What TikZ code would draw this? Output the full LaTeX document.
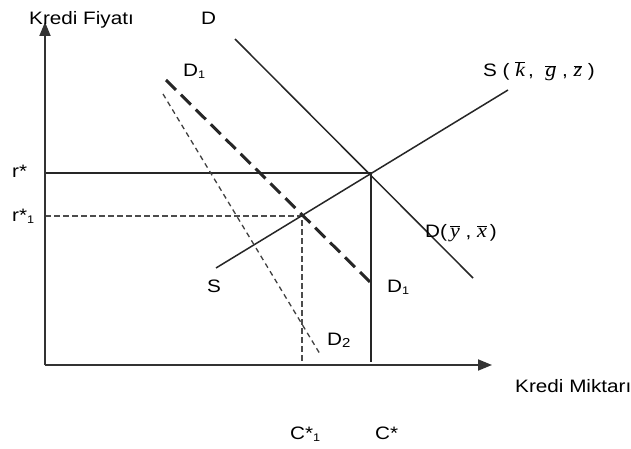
\documentclass[tikz,border=0pt]{standalone}
\usepackage{fontspec}
\setmainfont{Liberation Sans}[FakeStretch=1.15]
\newfontfamily\serifit{Liberation Serif Italic}[FakeStretch=1.1]
\usetikzlibrary{arrows.meta}
\newcommand{\ob}[1]{$\overline{\hbox{\fontsize{20}{22}\serifit #1}}$}
\begin{document}
\begin{tikzpicture}[x=1pt,y=-1pt,
  lbl/.style={anchor=base west,inner sep=0pt,font=\fontsize{18}{20}\selectfont},
  axis/.style={draw=black!80,line width=1.8pt,-{Triangle[length=14pt,width=11pt]}},
  curve/.style={draw=black!85,line width=1.5pt},
  thickdash/.style={draw=black!85,line width=3pt,dash pattern=on 14pt off 7pt},
  thindash/.style={draw=black!75,line width=1.3pt,dash pattern=on 5pt off 4pt},
  guidedash/.style={draw=black!70,line width=1.3pt,dash pattern=on 6pt off 3pt}]
\useasboundingbox (0,0) rectangle (631,449);
\fill[white] (0,0) rectangle (631,449);
% coordinates
\coordinate (O) at (45,365);
\coordinate (Ytop) at (45,22);
\coordinate (Xend) at (492,365);
\coordinate (E) at (371,173);
\coordinate (E1) at (302,216);
\coordinate (rs) at (45,173);
\coordinate (rs1) at (45,216);
\coordinate (Cs) at (371,362);
\coordinate (Cs1) at (302,365);
\coordinate (Da) at (235,39);
\coordinate (Db) at (473,278);
\coordinate (Sa) at (216,268);
\coordinate (Sb) at (508,90);
\coordinate (D1a) at (166,80);
\coordinate (D1b) at (372,284);
\coordinate (D2a) at (163,94);
\coordinate (D2b) at (320,354);
% guide lines
\draw[curve] (rs) -- (E) -- (Cs);
\draw[guidedash] (rs1) -- (E1) -- (Cs1);
% curves
\draw[curve] (Da) -- (Db);
\draw[curve] (Sa) -- (Sb);
\draw[thickdash] (D1a) -- (D1b);
\draw[thindash] (D2a) -- (D2b);
% axes
\draw[axis] (O) -- (Ytop);
\draw[axis] (O) -- (Xend);
% labels
\node[lbl] (ly) at (29,25) {Kredi Fiyatı};
\node[lbl] (lD) at (201,25) {D};
\node[lbl] (lD1) at (183,77) {D\raisebox{-2pt}{\fontsize{11}{12}\selectfont 1}};
\node[lbl] (lS) at (483,77) {S (\ \ob{k}\,, \ \ob{g}\ , \ob{z}\ )};
\node[lbl] (lr) at (12,178) {r*};
\node[lbl] (lr1) at (12,221) {r*\raisebox{-2pt}{\fontsize{11}{12}\selectfont 1}};
\node[lbl] (lDyx) at (425,237) {D(\,\ob{y}\ , \ob{x}\,)};
\node[lbl] (lS2) at (207,292) {S};
\node[lbl] (lD1b) at (387,292) {D\raisebox{-2pt}{\fontsize{11}{12}\selectfont 1}};
\node[lbl] (lD2) at (327,345) {D\raisebox{-2pt}{\fontsize{13}{14}\selectfont 2}};
\node[lbl] (lx) at (515,392) {Kredi Miktarı};
\node[lbl] (lC1) at (290,439) {C*\raisebox{-2pt}{\fontsize{11}{12}\selectfont 1}};
\node[lbl] (lC) at (375,439) {C*};
\end{tikzpicture}
\end{document}
